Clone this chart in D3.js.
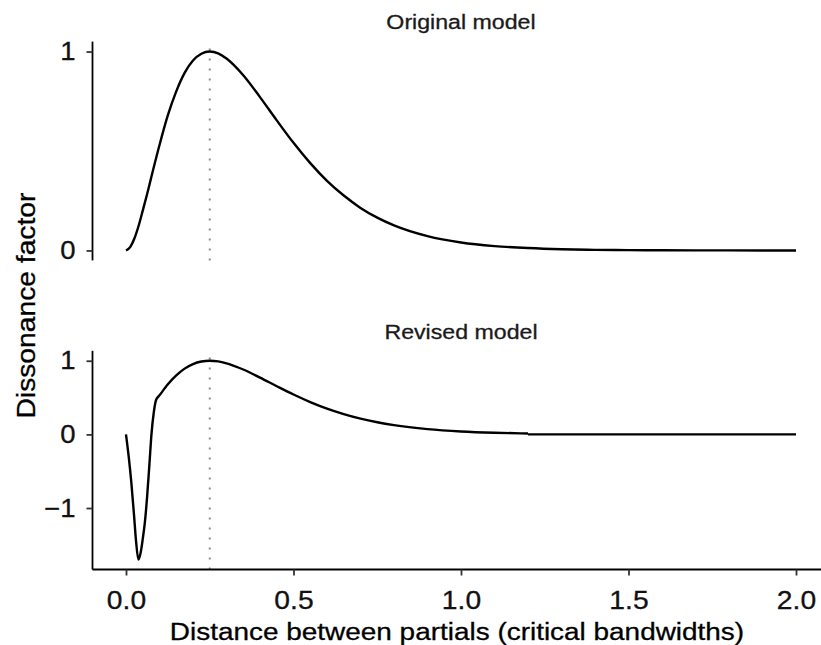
<!DOCTYPE html>
<html><head><meta charset="utf-8">
<script src="https://cdn.jsdelivr.net/npm/d3@7"></script>
<style>html,body{margin:0;padding:0;background:#fff;} svg{display:block;}</style>
</head><body><div id="chart"></div>
<script>
// ---- data ----
const originalDistance = [0, 0.0125, 0.025, 0.0375, 0.05, 0.0625, 0.075, 0.1, 0.125, 0.15, 0.175, 0.2, 0.225, 0.25, 0.275, 0.3, 0.35, 0.4, 0.45, 0.5, 0.55, 0.6, 0.65, 0.7, 0.75, 0.8, 0.9, 1.0, 1.1, 1.2, 1.3, 1.4, 1.5, 1.6, 1.8, 2.0];
const originalDissonance = [0, 0.017, 0.06, 0.123, 0.20, 0.28, 0.365, 0.53, 0.68, 0.80, 0.893, 0.955, 0.989, 1.0, 0.991, 0.965, 0.881, 0.771, 0.654, 0.541, 0.439, 0.35, 0.276, 0.214, 0.165, 0.126, 0.072, 0.040, 0.022, 0.012, 0.006, 0.003, 0.0016, 0.0008, 0.0002, 0];
const revisedDistance = [0, 0.008, 0.016, 0.024, 0.03, 0.037, 0.044, 0.05, 0.056, 0.063, 0.07, 0.076, 0.083, 0.09, 0.1, 0.125, 0.15, 0.175, 0.2, 0.225, 0.25, 0.275, 0.3, 0.35, 0.4, 0.45, 0.5, 0.55, 0.6, 0.65, 0.7, 0.75, 0.8, 0.9, 1.0, 1.1, 1.2, 1.2, 1.2, 1.5, 2.0];
const revisedDissonance = [0, -0.30, -0.66, -1.10, -1.45, -1.70, -1.60, -1.42, -1.21, -0.85, -0.40, 0.0, 0.30, 0.47, 0.53, 0.68, 0.80, 0.893, 0.955, 0.989, 1.0, 0.991, 0.965, 0.881, 0.771, 0.654, 0.541, 0.439, 0.35, 0.276, 0.214, 0.165, 0.126, 0.072, 0.040, 0.022, 0.012, null, 0, 0, 0];
const panelTitles = ["Original model", "Revised model"];
const xTicks = [0, 0.5, 1, 1.5, 2];
const originalYTicks = [0, 1];
const revisedYTicks = [-1, 0, 1];
const peakDistance = 0.25;
const xTitle = "Distance between partials (critical bandwidths)";
const yTitle = "Dissonance factor";

// ---- layout ----
const W = 821, H = 645;
const FONT = "'Liberation Sans', Arial, Helvetica, sans-serif";
const SX = 1.1;             // horizontal stretch of glyphs seen in reference
const left = 92.5, right = 829.5;
const TICK = 6, LABELGAP = 17;
const TICKFONT = 25;

const svg = d3.select("#chart").append("svg").attr("width", W).attr("height", H)
  .style("background", "#fff");

function expand(ext, m) { const r = ext[1] - ext[0]; return [ext[0] - m * r, ext[1] + m * r]; }
function heavy(sel, col) { return sel.attr("stroke", col).attr("stroke-width", 0.3); }

const x = d3.scaleLinear().domain(expand(d3.extent(originalDistance), 0.05)).range([left, right]);

const panels = [
  { title: panelTitles[0], xs: originalDistance, ys: originalDissonance, ticks: originalYTicks, top: 41.6, bottom: 260.4, titleY: 29 },
  { title: panelTitles[1], xs: revisedDistance, ys: revisedDissonance, ticks: revisedYTicks, top: 350.8, bottom: 569.5, titleY: 338.5 }
];

panels.forEach((p, i) => {
  const vals = p.ys.filter(v => v != null);
  const y = d3.scaleLinear().domain(expand(d3.extent(vals), 0.05)).range([p.bottom, p.top]);
  const g = svg.append("g");

  // dotted reference line at peak (drawn bottom -> top)
  g.append("line")
    .attr("x1", x(peakDistance)).attr("x2", x(peakDistance))
    .attr("y1", p.bottom).attr("y2", p.top)
    .attr("stroke", "#8c8c8c").attr("stroke-width", 2)
    .attr("stroke-dasharray", "2,8");

  // curve
  const pts = p.xs.map((d, k) => ({ x: d, y: p.ys[k] }));
  const line = d3.line().defined(d => d.y != null)
    .x(d => x(d.x)).y(d => y(d.y)).curve(d3.curveMonotoneX);
  g.append("path").datum(pts).attr("d", line)
    .attr("fill", "none").attr("stroke", "#000").attr("stroke-width", 2.4)
    .attr("stroke-linejoin", "round");

  // y axis
  const ya = g.append("g").attr("transform", `translate(${left},0)`)
    .call(d3.axisLeft(y).tickValues(p.ticks).tickFormat(d3.format("d")).tickSize(TICK).tickPadding(LABELGAP - TICK));
  ya.select(".domain").attr("d", `M0,${p.top}V${p.bottom}`).attr("stroke", "#000").attr("stroke-width", 1.8);
  ya.selectAll(".tick line").attr("stroke", "#333").attr("stroke-width", 1.8);
  heavy(ya.selectAll(".tick text")
    .attr("x", -LABELGAP / SX).attr("transform", `scale(${SX},1)`)
    .attr("font-family", FONT).attr("font-size", TICKFONT).attr("fill", "#111"), "#111");

  // strip title
  heavy(svg.append("text").attr("transform", `translate(${(left + right) / 2},${p.titleY}) scale(${SX + 0.03},1)`)
    .attr("text-anchor", "middle").attr("font-family", FONT).attr("font-size", 20.5)
    .attr("fill", "#1a1a1a").text(p.title), "#1a1a1a");

  if (i === 1) {
    const xa = svg.append("g").attr("transform", `translate(0,${p.bottom})`)
      .call(d3.axisBottom(x).tickValues(xTicks).tickFormat(d3.format(".1f")).tickSize(TICK).tickPadding(16));
    xa.select(".domain").attr("d", `M${left},0H${right}`).attr("stroke", "#000").attr("stroke-width", 1.8);
    xa.selectAll(".tick line").attr("stroke", "#333").attr("stroke-width", 1.8);
    heavy(xa.selectAll(".tick text").attr("transform", `scale(${SX + 0.03},1)`)
      .attr("font-family", FONT).attr("font-size", TICKFONT).attr("fill", "#111"), "#111");
  }
});

// axis titles
heavy(svg.append("text").attr("transform", `translate(${(left + right) / 2 - 4},640) scale(${SX + 0.04},1)`)
  .attr("text-anchor", "middle").attr("font-family", FONT).attr("font-size", 24.5)
  .attr("fill", "#000").text(xTitle), "#000");
heavy(svg.append("text").attr("transform", `translate(35,${(41.6 + 569.5) / 2}) rotate(-90) scale(${SX + 0.03},1)`)
  .attr("text-anchor", "middle").attr("font-family", FONT).attr("font-size", 25)
  .attr("fill", "#000").text(yTitle), "#000");
</script></body></html>
